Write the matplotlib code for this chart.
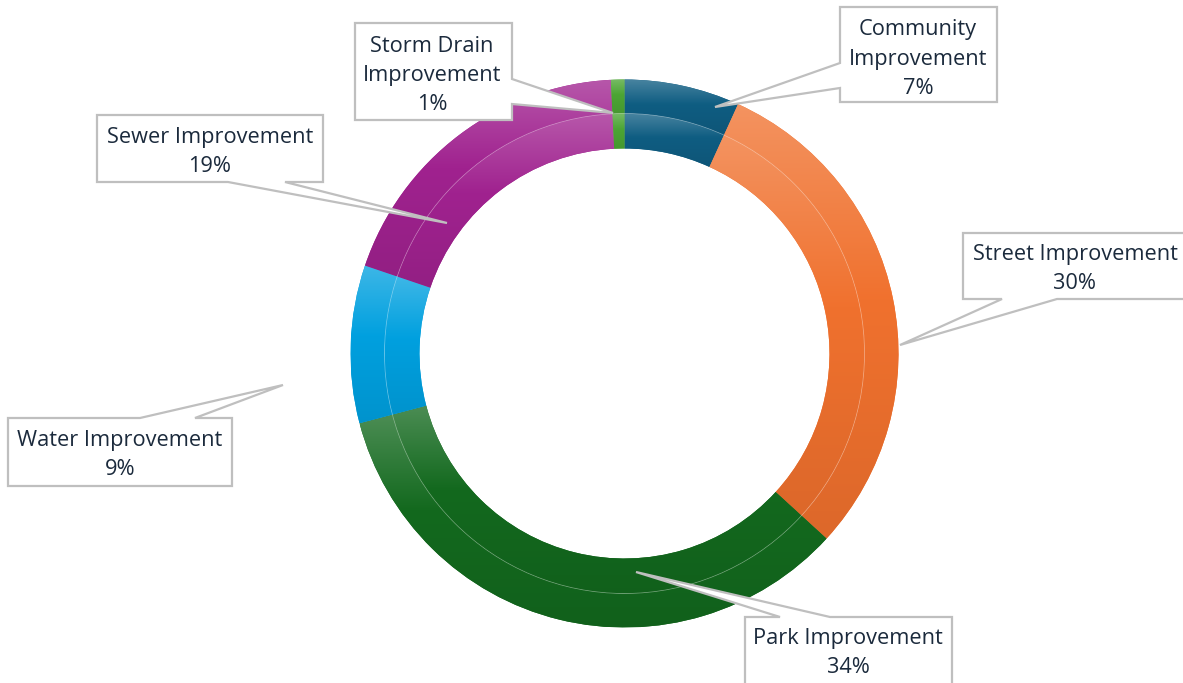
import numpy as np
import matplotlib.pyplot as plt
from matplotlib.path import Path
from matplotlib.patches import PathPatch, Circle
from matplotlib.colors import to_rgb

# data, clockwise from 12 o'clock
categories = ["Community\nImprovement", "Street Improvement", "Park Improvement",
              "Water Improvement", "Sewer Improvement", "Storm Drain\nImprovement"]
shares = [6.8, 30.0, 34.1, 9.3, 19.0, 0.8]
base_colors = ["#0F5D82", "#F0712E", "#13691E", "#00A0DF", "#A0228F", "#4CA534"]

W, H = 1183, 683
cx, cy = 624.5, H - 353.5
r_out, r_mid, r_in = 274, 240, 205

# callout boxes in pixel coords (x0, y0, x1, y1), pointer side, base a/b, tip
callouts = [
    ((840, 7, 997, 102), "left", 63, 88, (715, 107)),
    ((963, 233, 1195, 299), "bottom", 1002, 1057, (900, 345)),
    ((745, 617, 952, 695), "top", 780, 830, (636, 572)),
    ((8, 418, 232, 486), "top", 140, 195, (283, 385)),
    ((97, 115, 323, 182), "bottom", 228, 285, (447, 223)),
    ((355, 23, 512, 120), "right", 79, 104, (613, 113)),
]
text_pos = [(918, 59), (1075, 269), (848, 653), (120, 455), (210, 152), (432, 75)]

plt.rcParams['font.family'] = ['Open Sans', 'DejaVu Sans']
fig = plt.figure(figsize=(W / 100, H / 100), dpi=100)
ax = fig.add_axes([0, 0, 1, 1])


def gradient_fill(wedge, color):
    base = np.array(to_rgb(color))
    top = base + (1 - base) * 0.24
    bottom = base * 0.92
    t = np.linspace(0, 1, 256)[:, None]
    k1 = np.clip(t / 0.45, 0, 1)
    k2 = np.clip((t - 0.45) / 0.55, 0, 1)
    img = np.where(t < 0.45, top * (1 - k1) + base * k1, base * (1 - k2) + bottom * k2)
    img = img[:, None, :]
    ext = wedge.get_path().get_extents()
    wedge.set_facecolor(color)
    im = ax.imshow(img, extent=(ext.x0, ext.x1, ext.y0, ext.y1), origin='upper',
                   aspect='auto', interpolation='bilinear', zorder=2)
    im.set_clip_path(wedge)


for radius, width in [(r_out, r_out - r_mid), (r_mid, r_mid - r_in)]:
    wedges, _ = ax.pie(shares, radius=radius, center=(cx, cy), startangle=90,
                       counterclock=False, wedgeprops=dict(width=width, linewidth=0))
    for w, c in zip(wedges, base_colors):
        gradient_fill(w, c)

ax.add_patch(Circle((cx, cy), r_mid, fill=False, ec="white", lw=0.5, alpha=0.4, zorder=3))


def callout(box, side, a, b, tip):
    x0, y0, x1, y1 = box
    tl, tr, br, bl = (x0, y0), (x1, y0), (x1, y1), (x0, y1)
    if side == "top":
        pts = [tl, (a, y0), tip, (b, y0), tr, br, bl]
    elif side == "right":
        pts = [tl, tr, (x1, a), tip, (x1, b), br, bl]
    elif side == "bottom":
        pts = [tl, tr, br, (b, y1), tip, (a, y1), bl]
    else:
        pts = [tl, tr, br, bl, (x0, b), tip, (x0, a)]
    pts = [(x, H - y) for x, y in pts] + [(x0, H - y0)]
    codes = [Path.MOVETO] + [Path.LINETO] * (len(pts) - 2) + [Path.CLOSEPOLY]
    ax.add_patch(PathPatch(Path(pts, codes), fc="white", ec="#BFBFBF", lw=1.6,
                           joinstyle="miter", zorder=4))


for (box, side, a, b, tip), cat, share, (tx, ty) in zip(callouts, categories, shares, text_pos):
    callout(box, side, a, b, tip)
    ax.text(tx, H - ty, f"{cat}\n{round(share)}%", ha="center", va="center",
            multialignment="center", fontsize=15.7, color="#1B2A3C",
            linespacing=1.5, zorder=5)

ax.set_xlim(0, W)
ax.set_ylim(0, H)
ax.set_aspect("equal")
ax.axis("off")
fig.savefig("out.png", dpi=100)
